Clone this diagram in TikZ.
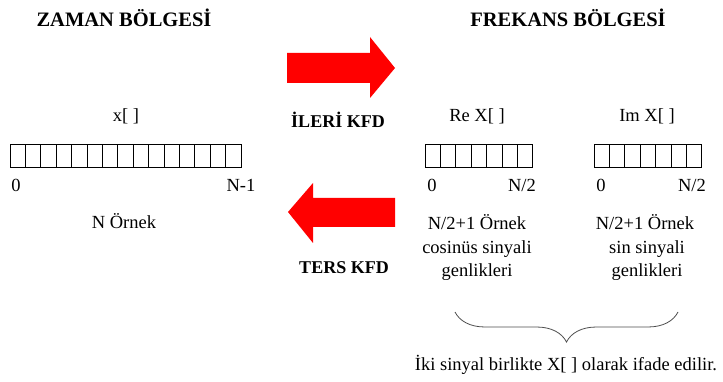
\documentclass[tikz,border=0pt]{standalone}
\usepackage{fontspec}
\setmainfont{Liberation Serif}
\usetikzlibrary{calc}
\usetikzlibrary{decorations.pathreplacing}
\definecolor{kirmizi}{RGB}{255,0,0}
\tikzset{
  baslik/.style={font=\bfseries\fontsize{20.5}{24}\selectfont},
  okyazi/.style={font=\bfseries\fontsize{18}{21}\selectfont},
  yazi/.style={font=\fontsize{18.5}{22}\selectfont},
  hucre/.style={draw=black, line width=.8pt},
}
\begin{document}
\begin{tikzpicture}[x=1pt, y=-1pt]
\useasboundingbox (0,0) rectangle (723,382);
\node[baslik] (zaman) at (124,18) {ZAMAN BÖLGESİ};
\node[baslik] (frekans) at (568,18) {FREKANS BÖLGESİ};
% zaman dizisi
\node[yazi] (x) at (126,116) {x[ ]};
\foreach \i in {0,...,14} {
 \draw[hucre] (10+\i*15.4,144) rectangle ++(15.4,23);
}
\node[yazi] (sifirA) at (16,185) {0};
\node[yazi] (sonA) at (241,185) {N-1};
\node[yazi] (nornek) at (124,221) {N Örnek};
% frekans dizileri
\node[yazi] (re) at (477,116) {Re X[ ]};
\node[yazi] (im) at (647,116) {Im X[ ]};
\foreach \i in {0,...,6} {
 \draw[hucre] (425+\i*15.4,144) rectangle ++(15.4,23);
 \draw[hucre] (594+\i*15.4,144) rectangle ++(15.4,23);
}
\node[yazi] (sifirB) at (432,185) {0};
\node[yazi] (sonB) at (522,185) {N/2};
\node[yazi] (sifirC) at (601,185) {0};
\node[yazi] (sonC) at (692,185) {N/2};
\node[yazi] (reornek) at (477,222) {N/2+1 Örnek};
\node[yazi] (recos) at (477,249) {cosinüs sinyali};
\node[yazi] (regen) at (477,272) {genlikleri};
\node[yazi] (imornek) at (645,222) {N/2+1 Örnek};
\node[yazi] (imsin) at (647,249) {sin sinyali};
\node[yazi] (imgen) at (647,272) {genlikleri};
% oklar
\fill[kirmizi] (287,53) -- (370,53) -- (370,37) -- (395,68) -- (370,98) -- (370,83) -- (287,83) -- cycle;
\node[okyazi] (ileri) at (338,120) {İLERİ KFD};
\fill[kirmizi] (395,198) -- (313,198) -- (313,183) -- (288,212) -- (313,243) -- (313,227) -- (395,227) -- cycle;
\node[okyazi] (ters) at (344,268) {TERS KFD};
% parantez
\coordinate (pa) at (455,312);
\coordinate (pb) at (678,312);
\draw[line width=.8pt, black!70, decorate, decoration={brace, mirror, amplitude=30pt}] (pa) -- (pb);
\node[yazi] (aciklama) at (566,365) {İki sinyal birlikte X[ ] olarak ifade edilir.};
\end{tikzpicture}
\end{document}
